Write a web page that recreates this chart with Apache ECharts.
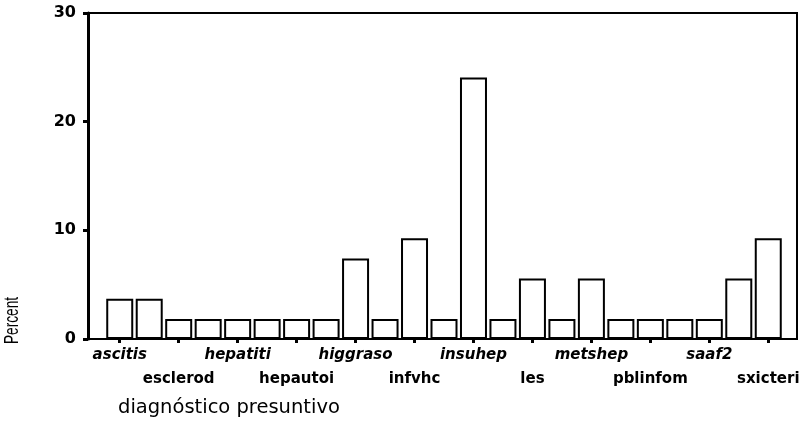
<!DOCTYPE html>
<html>
<head>
<meta charset="utf-8">
<script src="https://cdn.jsdelivr.net/npm/echarts@6/dist/echarts.min.js"></script>
<style>
  html, body { margin: 0; padding: 0; background: #fff; }
  #chart { width: 805px; height: 432px; }
</style>
</head>
<body>
<div id="chart"></div>
<script>
// Categorías (solo se rotulan una de cada dos, como en el original)
const categories = [
    'ascitis', '', 'esclerod', '', 'hepatiti', '', 'hepautoi', '', 'higgraso', '',
    'infvhc', '', 'insuhep', '', 'les', '', 'metshep', '', 'pblinfom', '', 'saaf2', '',
    'sxicteri'
];

// Porcentaje de casos por diagnóstico
const percentValues = [
    3.7, 3.7, 1.85, 1.85, 1.85, 1.85, 1.85, 1.85, 7.4, 1.85,
    9.26, 1.85, 24.07, 1.85, 5.56, 1.85, 5.56, 1.85, 1.85, 1.85,
    1.85, 5.56, 9.26
];

// Marcas del eje Y
const yTicks = [0, 10, 20, 30];

const chart = echarts.init(document.getElementById('chart'));

const labelFont = 'DejaVu Sans, Verdana, sans-serif';

const option = {
    backgroundColor: '#fff',
    animation: false,
    title: {
        text: 'diagnóstico presuntivo',
        left: 113,
        top: 393,
        textStyle: {
            fontFamily: labelFont,
            fontSize: 19.5,
            fontWeight: 'normal',
            color: '#000'
        }
    },
    graphic: [{
        // "Percent" estrecho y vertical
        type: 'text',
        x: 2,
        y: 344,
        rotation: Math.PI / 2,
        scaleX: 0.65,
        style: {
            text: 'Percent',
            fontFamily: 'Liberation Sans, Arial, sans-serif',
            fontSize: 21,
            fill: '#000',
            align: 'left',
            verticalAlign: 'top'
        }
    }],
    grid: [
        // marco y eje Y
        { left: 88, right: 8, top: 13, bottom: 93, show: true, borderColor: '#000', borderWidth: 2, backgroundColor: 'transparent' },
        // barras
        { left: 105, width: 678, top: 13, bottom: 93 }
    ],
    xAxis: [
        { gridIndex: 0, type: 'value', show: false, min: 0, max: 1 },
        {
            gridIndex: 1,
            type: 'category',
            data: categories,
            axisLine: { show: false },
            axisTick: {
                show: true,
                interval: 1,
                alignWithLabel: true,
                length: 4,
                lineStyle: { color: '#000', width: 3 }
            },
            axisLabel: {
                interval: 1,
                margin: 9,
                color: '#000',
                formatter: (value, index) => {
                    const k = Math.round(index / 2);
                    return k % 2 === 0 ? '{a|' + value + '}' : '{b|' + value + '}';
                },
                rich: {
                    a: { fontFamily: labelFont, fontSize: 15, fontWeight: 'bold', fontStyle: 'italic', color: '#000' },
                    b: { fontFamily: labelFont, fontSize: 15, fontWeight: 'bold', color: '#000', padding: [24, 0, 0, 0] }
                }
            }
        }
    ],
    yAxis: [
        {
            gridIndex: 0,
            type: 'value',
            min: yTicks[0],
            max: yTicks[yTicks.length - 1],
            interval: 10,
            axisLine: { show: true, lineStyle: { color: '#000', width: 3 } },
            axisTick: { show: true, length: 5, lineStyle: { color: '#000', width: 3 } },
            splitLine: { show: false },
            axisLabel: {
                margin: 12,
                color: '#000',
                fontFamily: labelFont,
                fontSize: 16,
                fontWeight: 'bold'
            }
        },
        { gridIndex: 1, type: 'value', min: 0, max: 30, show: false }
    ],
    series: [{
        type: 'bar',
        xAxisIndex: 1,
        yAxisIndex: 1,
        data: percentValues,
        barWidth: 27,
        itemStyle: {
            color: '#fff',
            borderColor: '#000',
            borderWidth: 2
        }
    }]
};

chart.setOption(option);
</script>
</body>
</html>
